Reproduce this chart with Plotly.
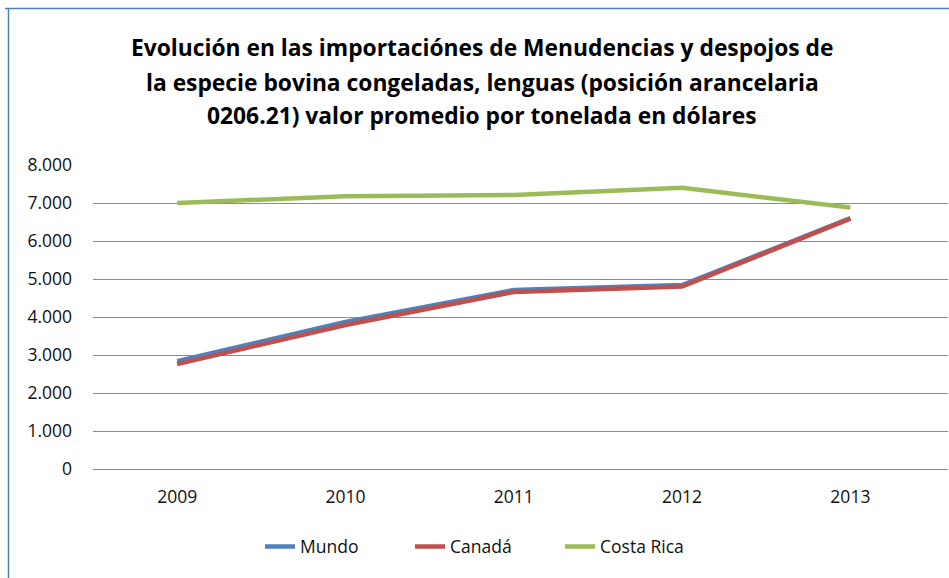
import plotly.graph_objects as go

years = ["2009", "2010", "2011", "2012", "2013"]
mundo = [2840, 3870, 4710, 4840, 6600]
canada = [2760, 3790, 4660, 4800, 6590]
costa_rica = [7000, 7180, 7210, 7400, 6880]

title_lines = [
    "Evolución en las importaciónes de Menudencias y despojos de",
    "la especie bovina congeladas, lenguas (posición arancelaria",
    "0206.21) valor promedio por tonelada en dólares",
]

W, H = 949, 578
L, R, T, B = 93, 1, 165, 109
FONT = "Open Sans, Carlito, Calibri, sans-serif"

fig = go.Figure()
for name, vals, col in [("Mundo", mundo, "#4F81BD"),
                        ("Canadá", canada, "#C0504D"),
                        ("Costa Rica", costa_rica, "#9BBB59")]:
    fig.add_trace(go.Scatter(x=years, y=vals, name=name, mode="lines",
                             line=dict(color=col, width=4.5)))

fig.update_layout(
    width=W, height=H,
    margin=dict(l=L, r=R, t=T, b=B),
    paper_bgcolor="white", plot_bgcolor="white",
    separators=",.",
    font=dict(family=FONT, size=17, color="#111111"),
    showlegend=True,
    legend=dict(orientation="h", x=0.4585, xanchor="center", y=-0.255, yanchor="middle",
                font=dict(size=17.5), traceorder="normal", entrywidth=105),
    xaxis=dict(type="category", range=[-0.5, 4.58], showgrid=False,
               showline=False, ticks="", ticklabelstandoff=15,
               tickfont=dict(size=17.5)),
    yaxis=dict(range=[0, 8000], dtick=1000, tickformat=",d",
               showgrid=True, gridcolor="#8c8c8c", gridwidth=1.3,
               zeroline=True, zerolinecolor="#8c8c8c", zerolinewidth=1.3,
               showline=False, ticks="", ticklabelstandoff=20,
               tickfont=dict(size=17.5)),
)

pw = W - L - R
ph = H - T - B
def px(x):
    return (x - L) / pw
def py(y):
    return (H - B - y) / ph

# chart frame (top and left edges visible)
fig.add_shape(type="line", xref="paper", yref="paper",
              x0=px(5), x1=px(949), y0=py(8.5), y1=py(8.5),
              line=dict(color="#4F81BD", width=1.5))
fig.add_shape(type="line", xref="paper", yref="paper",
              x0=px(8.5), x1=px(8.5), y0=py(8), y1=py(578),
              line=dict(color="#4F81BD", width=1.5))

for i, (t, yc) in enumerate(zip(title_lines, [48, 82, 115])):
    fig.add_annotation(text=f"<b>{t}</b>", xref="paper", yref="paper",
                       x=px(482), y=py(yc), xanchor="center", yanchor="middle",
                       showarrow=False, font=dict(size=22.8, family=FONT, color="#000000"))

fig.write_html("out.html", config={"displayModeBar": False},
               post_script="document.body.style.margin='0';document.body.style.padding='0';")
